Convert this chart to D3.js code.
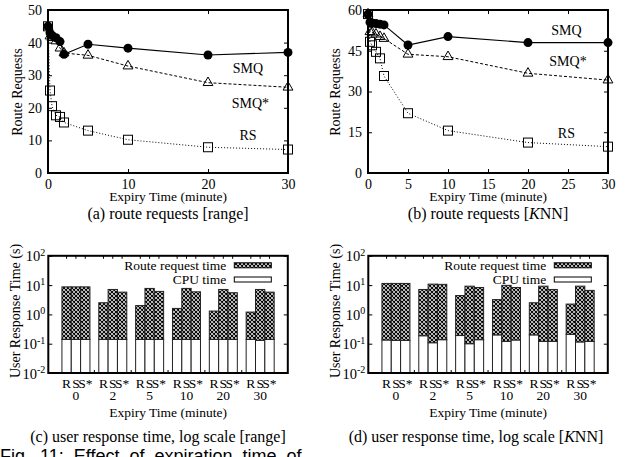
<!DOCTYPE html>
<html>
<head>
<meta charset="utf-8">
<script src="https://d3js.org/d3.v7.min.js"></script>
<style>
  body { margin: 0; background: #fff; }
  text { font-family: "Liberation Serif", "Times New Roman", serif; fill: #000; }
</style>
</head>
<body>
<svg id="fig" width="635" height="457"></svg>
<script>
// ---- data ----
var expiry = [0, 0.25, 0.5, 1, 1.5, 2, 5, 10, 20, 30];

// (a) range queries
var smqRange     = [45, 43, 42.2, 41.5, 40.3, 36.4, 39.5, 38.3, 36.2, 37];
var smqStarRange = [45, 42, 41.5, 40.5, 38.3, 36.8, 36.1, 32.8, 27.7, 26.3];
var rsRange      = [45, 25.3, 20.5, 17.7, 17.2, 15.5, 13, 10.2, 7.9, 7.2];

// (b) KNN queries
var smqKnn     = [58.5, 55.5, 55.2, 55, 54.8, 54.5, 47.1, 50.2, 48, 48];
var smqStarKnn = [58.5, 52, 51.8, 51.1, 50.2, 49.5, 43.7, 42.8, 36.7, 34.2];
var rsKnn      = [58.5, 48.3, 47, 44.6, 42.2, 35.7, 22, 15.6, 11.2, 9.7];

// bar charts: groups = expiry time, bars = R, S, S*
var groups = ["0", "2", "5", "10", "20", "30"];
var methods = ["R", "S", "S*"];

var cpuRange = [[0.14, 0.14, 0.14], [0.14, 0.14, 0.14], [0.14, 0.14, 0.14],
                [0.14, 0.14, 0.14], [0.14, 0.14, 0.14], [0.14, 0.13, 0.14]];
var routeRange = [[8.56, 8.56, 8.56], [2.36, 6.96, 5.61], [1.86, 7.56, 5.96],
                  [1.46, 7.56, 5.76], [1.16, 6.96, 5.36], [1.06, 6.97, 5.61]];

var cpuKnn = [[0.134, 0.13, 0.13], [0.187, 0.108, 0.137], [0.19, 0.1, 0.137],
              [0.2, 0.12, 0.134], [0.2, 0.12, 0.12], [0.21, 0.115, 0.12]];
var routeKnn = [[11.27, 11.27, 11.27], [6.91, 10.69, 10.46], [4.21, 9.1, 8.16],
                [3.0, 9.68, 8.17], [2.3, 9.08, 6.98], [2.04, 9.09, 6.48]];

var svg = d3.select("#fig");

// crosshatch fill for route request time
var pat = svg.append("defs").append("pattern")
  .attr("id", "hatch").attr("patternUnits", "userSpaceOnUse")
  .attr("width", 4).attr("height", 4);
pat.append("rect").attr("width", 4).attr("height", 4).attr("fill", "#fff");
pat.append("path").attr("d", "M0,0L4,4M4,0L0,4M-1,3L1,5M3,-1L5,1")
  .attr("stroke", "#000").attr("stroke-width", 1.1);

function inwardAxes(g, x, y, xticks, yticks, top, bottom, left, right) {
  g.append("g").attr("transform", "translate(0," + bottom + ")")
    .call(d3.axisBottom(x).tickValues(xticks).tickSize(-4).tickPadding(6))
    .call(function(a) { a.select(".domain").remove(); });
  g.append("g").attr("transform", "translate(0," + top + ")")
    .call(d3.axisTop(x).tickValues(xticks).tickSize(-4).tickFormat(""))
    .call(function(a) { a.select(".domain").remove(); });
  g.append("g").attr("transform", "translate(" + left + ",0)")
    .call(d3.axisLeft(y).tickValues(yticks).tickSize(-4).tickPadding(6))
    .call(function(a) { a.select(".domain").remove(); });
  g.append("g").attr("transform", "translate(" + right + ",0)")
    .call(d3.axisRight(y).tickValues(yticks).tickSize(-4).tickFormat(""))
    .call(function(a) { a.select(".domain").remove(); });
  g.selectAll(".tick text").style("font-family", "Liberation Serif").style("font-size", "14px");
  g.selectAll(".tick line").attr("stroke", "#000");
}

function lineChart(cfg) {
  var top = 10, bottom = 173;
  var g = svg.append("g");
  var x = d3.scaleLinear().domain([0, 30]).range([cfg.left, cfg.right]);
  var y = d3.scaleLinear().domain([0, cfg.ymax]).range([bottom, top]);

  inwardAxes(g, x, y, cfg.xticks, cfg.yticks, top, bottom, cfg.left, cfg.right);

  var line = d3.line().x(function(d) { return x(d[0]); }).y(function(d) { return y(d[1]); });
  var rs = d3.zip(expiry, cfg.rs), smqs = d3.zip(expiry, cfg.smqStar), smq = d3.zip(expiry, cfg.smq);

  // RS: dotted, open squares
  g.append("path").datum(rs).attr("d", line).attr("fill", "none")
    .attr("stroke", "#000").attr("stroke-width", 1).attr("stroke-dasharray", "1,2");
  g.selectAll(".sq").data(rs).enter().append("rect")
    .attr("x", function(d) { return x(d[0]) - 4.5; })
    .attr("y", function(d) { return y(d[1]) - 4.5; })
    .attr("width", 9).attr("height", 9)
    .attr("fill", "none").attr("stroke", "#000").attr("stroke-width", 1);

  // SMQ*: dashed, open triangles
  g.append("path").datum(smqs).attr("d", line).attr("fill", "none")
    .attr("stroke", "#000").attr("stroke-width", 1).attr("stroke-dasharray", "3,2");
  g.selectAll(".tri").data(smqs).enter().append("path")
    .attr("d", d3.symbol().type(d3.symbolTriangle).size(42))
    .attr("transform", function(d) { return "translate(" + x(d[0]) + "," + y(d[1]) + ")"; })
    .attr("fill", "none").attr("stroke", "#000").attr("stroke-width", 1);

  // SMQ: solid, filled circles
  g.append("path").datum(smq).attr("d", line).attr("fill", "none")
    .attr("stroke", "#000").attr("stroke-width", 1.1);
  g.selectAll(".dot").data(smq).enter().append("circle")
    .attr("cx", function(d) { return x(d[0]); })
    .attr("cy", function(d) { return y(d[1]); })
    .attr("r", 4.5).attr("fill", "#000");

  // frame
  g.append("rect").attr("x", cfg.left).attr("y", top)
    .attr("width", cfg.right - cfg.left).attr("height", bottom - top)
    .attr("fill", "none").attr("stroke", "#000").attr("stroke-width", 2);

  // series labels
  cfg.labels.forEach(function(l) {
    g.append("text").attr("x", x(l[1])).attr("y", y(l[2])).attr("dy", "0.35em")
      .attr("text-anchor", "middle").style("font-size", "14px").text(l[0]);
  });

  g.append("text").attr("transform", "translate(" + cfg.ytitleX + ",92) rotate(-90)")
    .attr("text-anchor", "middle").attr("dy", "0.35em").style("font-size", "14px")
    .text("Route Requests");
  g.append("text").attr("x", (cfg.left + cfg.right) / 2).attr("y", 201)
    .attr("text-anchor", "middle").style("font-size", "13.5px").text("Expiry Time (minute)");
}

function barChart(cfg) {
  var top = 255.8, bottom = 373;
  var g = svg.append("g");
  var x0 = d3.scaleBand().domain(groups).range([cfg.left, cfg.right])
    .paddingInner(0.24).paddingOuter(0.37);
  var x1 = d3.scaleBand().domain(methods).range([0, x0.bandwidth()]);
  var y = d3.scaleLog().domain([0.01, 100]).range([bottom, top]);

  groups.forEach(function(gr, i) {
    methods.forEach(function(m, j) {
      var cpu = cfg.cpu[i][j], total = cpu + cfg.route[i][j];
      var bx = x0(gr) + x1(m);
      g.append("rect").attr("x", bx).attr("y", y(cpu))
        .attr("width", x1.bandwidth()).attr("height", y(0.01) - y(cpu))
        .attr("fill", "#fff").attr("stroke", "#222").attr("stroke-width", 1);
      g.append("rect").attr("x", bx).attr("y", y(total))
        .attr("width", x1.bandwidth()).attr("height", y(cpu) - y(total))
        .attr("fill", "url(#hatch)").attr("stroke", "#222").attr("stroke-width", 1);
      g.append("text").attr("x", bx + x1.bandwidth() / 2).attr("y", 387.5)
        .attr("text-anchor", "middle").style("font-size", "13.5px").text(m);
      // mirrored tick at top
      g.append("line").attr("x1", bx + x1.bandwidth() / 2).attr("x2", bx + x1.bandwidth() / 2)
        .attr("y1", top).attr("y2", top + 3).attr("stroke", "#000");
    });
    g.append("text").attr("x", x0(gr) + x0.bandwidth() / 2).attr("y", 400)
      .attr("text-anchor", "middle").style("font-size", "13.5px").text(gr);
    if (i > 0) {
      var bx2 = x0(gr) - (x0.step() - x0.bandwidth()) / 2;
      g.append("line").attr("x1", bx2).attr("x2", bx2)
        .attr("y1", bottom).attr("y2", bottom - 3).attr("stroke", "#000");
    }
  });

  var decades = [0.01, 0.1, 1, 10, 100];
  g.append("g").attr("transform", "translate(" + cfg.left + ",0)")
    .call(d3.axisLeft(y).tickValues(decades).tickSize(-4).tickPadding(5).tickFormat(""))
    .call(function(a) { a.select(".domain").remove(); });
  g.append("g").attr("transform", "translate(" + cfg.right + ",0)")
    .call(d3.axisRight(y).tickValues(decades).tickSize(-4).tickFormat(""))
    .call(function(a) { a.select(".domain").remove(); });
  decades.forEach(function(d) {
    var t = g.append("text").attr("x", cfg.left - 3).attr("y", y(d)).attr("dy", "0.38em")
      .attr("text-anchor", "end").style("font-size", "14.5px");
    t.append("tspan").text("10");
    t.append("tspan").attr("dy", "-0.55em").style("font-size", "10px").text(Math.round(Math.log10(d)));
  });

  // legend
  var lx = cfg.left + 178;
  [["Route request time", "url(#hatch)", 265.3], ["CPU time", "#fff", 279.5]].forEach(function(l) {
    g.append("text").attr("x", lx).attr("y", l[2]).attr("dy", "0.35em")
      .attr("text-anchor", "end").style("font-size", "13.5px").text(l[0]);
    g.append("rect").attr("x", lx + 8).attr("y", l[2] - 2.5).attr("width", 37).attr("height", 5)
      .attr("fill", l[1]).attr("stroke", "#000").attr("stroke-width", 1);
  });

  g.append("rect").attr("x", cfg.left).attr("y", top)
    .attr("width", cfg.right - cfg.left).attr("height", bottom - top)
    .attr("fill", "none").attr("stroke", "#000").attr("stroke-width", 2);

  g.append("text").attr("transform", "translate(" + cfg.ytitleX + ",311) rotate(-90)")
    .attr("text-anchor", "middle").attr("dy", "0.35em").style("font-size", "14px")
    .text("User Response Time (s)");
  g.append("text").attr("x", (cfg.left + cfg.right) / 2).attr("y", 417)
    .attr("text-anchor", "middle").style("font-size", "13.5px").text("Expiry Time (minute)");
}

lineChart({
  left: 48, right: 288, ymax: 50, xticks: [0, 10, 20, 30], yticks: [0, 10, 20, 30, 40, 50],
  smq: smqRange, smqStar: smqStarRange, rs: rsRange, ytitleX: 17,
  labels: [["SMQ", 25, 32.3], ["SMQ*", 25.3, 21.5], ["RS", 25, 11.5]]
});
lineChart({
  left: 368, right: 608, ymax: 60, xticks: [0, 5, 10, 15, 20, 25, 30], yticks: [0, 15, 30, 45, 60],
  smq: smqKnn, smqStar: smqStarKnn, rs: rsKnn, ytitleX: 335,
  labels: [["SMQ", 24.8, 52.6], ["SMQ*", 25, 41.2], ["RS", 24.8, 14.8]]
});
barChart({ left: 48.3, right: 287.8, cpu: cpuRange, route: routeRange, ytitleX: 15 });
barChart({ left: 368.3, right: 607.8, cpu: cpuKnn, route: routeKnn, ytitleX: 335 });

// captions
svg.append("text").attr("x", 168).attr("y", 218.5).attr("text-anchor", "middle")
  .style("font-size", "16px").text("(a) route requests [range]");
var cb = svg.append("text").attr("x", 488).attr("y", 218.5).attr("text-anchor", "middle")
  .style("font-size", "16px");
cb.append("tspan").text("(b) route requests [");
cb.append("tspan").style("font-style", "italic").text("K");
cb.append("tspan").text("NN]");
svg.append("text").attr("x", 158).attr("y", 442).attr("text-anchor", "middle")
  .style("font-size", "16px").text("(c) user response time, log scale [range]");
var cd = svg.append("text").attr("x", 476).attr("y", 442).attr("text-anchor", "middle")
  .style("font-size", "16px");
cd.append("tspan").text("(d) user response time, log scale [");
cd.append("tspan").style("font-style", "italic").text("K");
cd.append("tspan").text("NN]");
svg.append("text").attr("x", 0).attr("y", 462)
  .style("font-family", "Liberation Sans").style("font-size", "18px").style("word-spacing", "5px")
  .text("Fig. 11: Effect of expiration time of");
</script>
</body>
</html>
